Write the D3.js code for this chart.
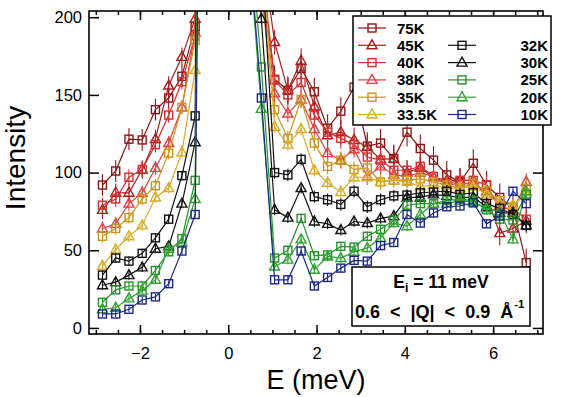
<!DOCTYPE html>
<html><head><meta charset="utf-8">
<script src="https://cdn.jsdelivr.net/npm/d3@7"></script>
<style>body{margin:0;background:#fff} svg{display:block} text{font-family:"Liberation Sans",Arial,sans-serif}</style>
</head><body><svg id="c" width="564" height="397"></svg>
<script>
// ---- data ----
const temps = ["75K","45K","40K","38K","35K","33.5K","32K","30K","25K","20K","10K"];
const shapes = ["square","triangle","square","triangle","square","triangle","square","triangle","square","triangle","square"];
const colors = ["#8a1515","#a81c1c","#d62e30","#e04040","#c8961a","#d8ac28","#111111","#111111","#24922a","#32a032","#1a2884"];

const xNeg = [-2.85,-2.55,-2.25,-1.95,-1.65,-1.35,-1.05,-0.75,-0.45];
const xPos = [0.45,0.75,1.05,1.35,1.65,1.95,2.25,2.55,2.85,3.15,3.45,3.75,4.05,4.35,4.65,4.95,5.25,5.55,5.85,6.15,6.45,6.75];

const t75Neg = [92,101,121.5,121,140.5,148,162,194,1400];
const t75Pos = [280,230,160,153,167,152,128.5,139.5,155,117,119,109,126,115.5,108,98.5,94,106,92,84,77,42];
const t45Neg = [76,87,87,102,121.5,156,174.5,199,1600];
const t45Pos = [300,245,184,153,172,142.5,124,126,121,116.5,108.5,109,100,103,97,95,95,95,85,61,64,69];
const t40Neg = [79,83,97,102,118,137,158.5,188,1400];
const t40Pos = [290,235,159.5,150,158,137,126,122,118,110,108,101.5,101.5,104,97.5,93,95,95,92,77,77,70];
const t38Neg = [64,67,80,87,103,119,142,190,1400];
const t38Pos = [285,225,151,138,147,128,112.5,108,115,97.5,104,98.5,97.5,100,97.5,92,93,93,88,79,75,94];
const t35Neg = [59,64,71,83,91.5,112.5,142,185,1300];
const t35Pos = [275,215,140.5,122,147,119,104,108,102,103,94,95,95,96,94,92,90,93,88,82,78,90];
const t335Neg = [40,50.5,59,66,84,90,113,166,1200];
const t335Pos = [360,250,129.5,118,128,101.5,93.5,87.5,97,97,94,95,94,91,92,90,90,91,86,80,79,86];
const t32Neg = [34,45,43,48,58,70,98,136.5,1100];
const t32Pos = [320,240,100,98.5,108.5,84.5,82.5,79.5,88,78,82.5,85,85.5,87,87.5,88,86,87,80,77,73,66];
const t30Neg = [27.5,29.5,34,39,51,52.5,80,119.5,1000];
const t30Pos = [290,199,76,71,90,68.5,67,63,68.5,67.5,70.5,72,84,84,86,85,84,84,78,74,74,66];
const t25Neg = [16.5,24.5,27,27,37,49,57.5,95,900];
const t25Pos = [270,168,45,50,70.5,46.5,47,52.5,52,59,63.5,69.5,79,80,80,82,83,82,76,70,69.5,86];
const t20Neg = [12,13,19,24,31,51,55,83,900];
const t20Pos = [250,141,39.5,44,57,37.5,46,45,49,51.5,58,67.5,65.5,73,80,80,82,81,77,75,57,88];
const t10Neg = [9,9,12,18,20,28.5,49.5,73,800];
const t10Pos = [255,148,31,31,49.5,27,32.5,38.5,43.5,43,53,55,73,67.5,74,78,78.5,80.5,67,72,88,80];

const errNeg = [7,6,5,4.5,4,3.5,3,3,2.5,2.5,2];
const errPos = [9,8,6.5,5.5,5,4,4,3.5,3,3,2.5];

const negSets = [t75Neg,t45Neg,t40Neg,t38Neg,t35Neg,t335Neg,t32Neg,t30Neg,t25Neg,t20Neg,t10Neg];
const posSets = [t75Pos,t45Pos,t40Pos,t38Pos,t35Pos,t335Pos,t32Pos,t30Pos,t25Pos,t20Pos,t10Pos];

const yTicks = [0,50,100,150,200];
const xTickLabels = [-2,0,2,4,6];

// ---- layout ----
const svg = d3.select("#c");
const L=89, R=543, T=11, B=334;
const x = d3.scaleLinear().domain([-3.155,7.13]).range([L,R]);
const y = d3.scaleLinear().domain([-3.9,204]).range([B,T]);

svg.append("defs").append("clipPath").attr("id","plot")
  .append("rect").attr("x",L).attr("y",T).attr("width",R-L).attr("height",B-T);

const g = svg.append("g").attr("clip-path","url(#plot)");
const line = d3.line().x(d=>x(d[0])).y(d=>y(d[1]));

temps.forEach((t,i)=>{
  const col = colors[i];
  [[xNeg,negSets[i],errNeg[i]],[xPos,posSets[i],errPos[i]]].forEach(([xs,vs,e])=>{
    const pts = xs.map((xv,j)=>[xv,vs[j]]);
    const s = g.append("g");
    s.append("path").attr("d",line(pts)).attr("fill","none").attr("stroke",col).attr("stroke-width",1.2);
    s.selectAll("line.eb").data(pts).enter().append("line")
      .attr("x1",d=>x(d[0])).attr("x2",d=>x(d[0]))
      .attr("y1",d=>y(d[1]-e)).attr("y2",d=>y(d[1]+e))
      .attr("stroke",col).attr("stroke-width",1.1);
    drawMarkers(s, pts.map(d=>[x(d[0]),y(d[1])]), shapes[i], col);
  });
});

function drawMarkers(sel, pts, shape, col){
  if(shape==="square"){
    sel.selectAll("rect.m").data(pts).enter().append("rect")
      .attr("x",d=>d[0]-4).attr("y",d=>d[1]-4).attr("width",8).attr("height",8)
      .attr("fill","none").attr("stroke",col).attr("stroke-width",1.4);
  } else {
    sel.selectAll("path.m").data(pts).enter().append("path")
      .attr("d",d=>`M${d[0]},${d[1]-5.5}L${d[0]+5},${d[1]+3.5}L${d[0]-5},${d[1]+3.5}Z`)
      .attr("fill","none").attr("stroke",col).attr("stroke-width",1.4);
  }
}

// ---- axes ----
const fmt = d3.format("d");
const axB = svg.append("g").attr("transform",`translate(0,${B})`)
  .call(d3.axisBottom(x).tickValues(xTickLabels).tickFormat(fmt).tickSizeInner(-9).tickSizeOuter(0).tickPadding(13));
const axBm = svg.append("g").attr("transform",`translate(0,${B})`)
  .call(d3.axisBottom(x).tickValues(d3.range(-3,7.01,0.5)).tickFormat("").tickSizeInner(-4).tickSizeOuter(0));
const axT = svg.append("g").attr("transform",`translate(0,${T})`)
  .call(d3.axisTop(x).tickValues(xTickLabels).tickFormat("").tickSizeInner(-9).tickSizeOuter(0));
const axTm = svg.append("g").attr("transform",`translate(0,${T})`)
  .call(d3.axisTop(x).tickValues(d3.range(-3,7.01,0.5)).tickFormat("").tickSizeInner(-4).tickSizeOuter(0));
const axL = svg.append("g").attr("transform",`translate(${L},0)`)
  .call(d3.axisLeft(y).tickValues(yTicks).tickFormat(fmt).tickSizeInner(-10).tickSizeOuter(0).tickPadding(7));
const axR = svg.append("g").attr("transform",`translate(${R},0)`)
  .call(d3.axisRight(y).tickValues(yTicks).tickFormat("").tickSizeInner(-10).tickSizeOuter(0));
[axB,axBm,axT,axTm,axL,axR].forEach(a=>{
  a.select(".domain").remove();
  a.selectAll("line").attr("stroke","#000").attr("stroke-width",1.5);
  a.selectAll("text").attr("font-size",16.5).attr("fill","#000").style("font-family","'Liberation Sans',Arial,sans-serif");
});
svg.append("rect").attr("x",L).attr("y",T).attr("width",R-L).attr("height",B-T)
  .attr("fill","none").attr("stroke","#000").attr("stroke-width",1.6);

svg.append("text").attr("transform","translate(25,158) rotate(-90)").attr("text-anchor","middle")
  .attr("font-size",28).text("Intensity");
svg.append("text").attr("x",316).attr("y",389).attr("text-anchor","middle")
  .attr("font-size",27).text("E (meV)");

// ---- legend ----
const lg = svg.append("g");
lg.append("rect").attr("x",353).attr("y",16).attr("width",198).attr("height",109)
  .attr("fill","#fff").attr("stroke","#000").attr("stroke-width",1.5);
const rowY = r => 28 + r*17.3;
temps.forEach((t,i)=>{
  const left = i<6;
  const r = left ? i : i-5;
  const cx = left ? 372 : 462;
  const cy = rowY(r);
  const col = colors[i];
  lg.append("line").attr("x1",cx-14).attr("x2",cx+14).attr("y1",cy).attr("y2",cy).attr("stroke",col).attr("stroke-width",1.2);
  drawMarkers(lg.append("g"), [[cx,cy]], shapes[i], col);
  lg.append("text").attr("x", left?397:548).attr("y",cy+5.5).attr("text-anchor",left?"start":"end")
    .attr("font-size",15).attr("font-weight","bold").text(t);
});

// ---- annotation ----
const an = svg.append("g");
an.append("rect").attr("x",352).attr("y",267).attr("width",178).attr("height",59)
  .attr("fill","#fff").attr("stroke","#000").attr("stroke-width",1.5);
const t1 = an.append("text").attr("x",441).attr("y",288).attr("text-anchor","middle")
  .attr("font-size",17.5).attr("font-weight","bold");
t1.append("tspan").text("E");
t1.append("tspan").attr("font-size",12).attr("dy",4).text("i");
t1.append("tspan").attr("dy",-4).text(" = 11 meV");
const t2 = an.append("text").attr("x",355).attr("y",318).attr("font-size",18).attr("font-weight","bold")
  .attr("xml:space","preserve");
t2.append("tspan").text("0.6  <  |Q|  <  0.9  Å");
t2.append("tspan").attr("font-size",11.5).attr("dx",1).attr("dy",-10).text("-1");
</script></body></html>
